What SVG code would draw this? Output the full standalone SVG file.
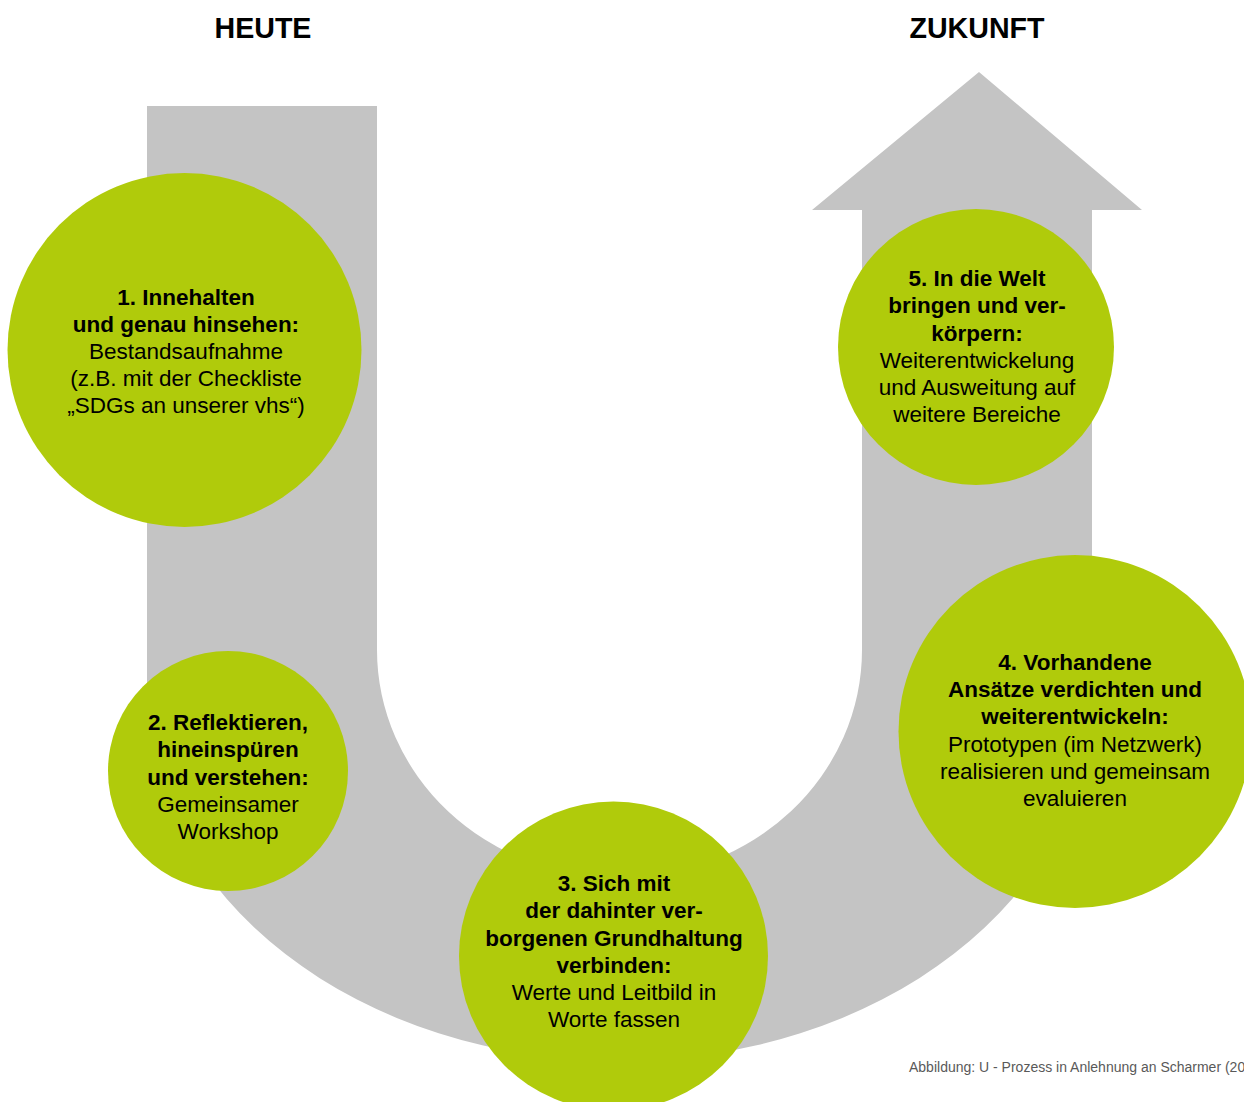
<svg xmlns="http://www.w3.org/2000/svg" width="1244" height="1102" viewBox="0 0 1244 1102">
  <style>
    .bg { fill: #ffffff; }
    .band { fill: #c4c4c4; }
    .node { fill: #b0cb0b; }
    .t { font-family: "Liberation Sans", Arial, sans-serif; font-size: 22.5px; fill: #000000; text-anchor: middle; }
    .b { font-weight: bold; }
    .head { font-family: "Liberation Sans", Arial, sans-serif; font-size: 28.6px; font-weight: bold; fill: #000000; text-anchor: middle; }
    .cap { font-family: "Liberation Sans", Arial, sans-serif; font-size: 14px; fill: #595959; }
  </style>
  <rect class="bg" x="0" y="0" width="1244" height="1102"/>

  <g id="headings">
    <text class="head" x="263" y="38">HEUTE</text>
    <text class="head" x="977" y="38">ZUKUNFT</text>
  </g>

  <g id="connectors">
    <path id="u-arrow" class="band" d="M147,106 H377 V650 A242.5,228 0 0 0 862,650 V210 H812 L979,72 L1142,210 H1092 V696 A472.5,365 0 0 1 147,696 Z"/>
  </g>

  <g id="node1">
    <circle class="node" cx="184.5" cy="350" r="177"/>
    <text class="t b" x="186" y="305">1. Innehalten</text>
    <text class="t b" x="186" y="332">und genau hinsehen:</text>
    <text class="t" x="186" y="359">Bestandsaufnahme</text>
    <text class="t" x="186" y="386">(z.B. mit der Checkliste</text>
    <text class="t" x="186" y="413">„SDGs an unserer vhs“)</text>
  </g>

  <g id="node2">
    <circle class="node" cx="228" cy="771" r="120"/>
    <text class="t b" x="228" y="730">2. Reflektieren,</text>
    <text class="t b" x="228" y="757">hineinspüren</text>
    <text class="t b" x="228" y="785">und verstehen:</text>
    <text class="t" x="228" y="812">Gemeinsamer</text>
    <text class="t" x="228" y="839">Workshop</text>
  </g>

  <g id="node3">
    <circle class="node" cx="613.5" cy="956" r="154.5"/>
    <text class="t b" x="614" y="891">3. Sich mit</text>
    <text class="t b" x="614" y="918">der dahinter ver-</text>
    <text class="t b" x="614" y="946">borgenen Grundhaltung</text>
    <text class="t b" x="614" y="973">verbinden:</text>
    <text class="t" x="614" y="1000">Werte und Leitbild in</text>
    <text class="t" x="614" y="1027">Worte fassen</text>
  </g>

  <g id="node4">
    <circle class="node" cx="1075" cy="731.5" r="176.5"/>
    <text class="t b" x="1075" y="670">4. Vorhandene</text>
    <text class="t b" x="1075" y="697">Ansätze verdichten und</text>
    <text class="t b" x="1075" y="724">weiterentwickeln:</text>
    <text class="t" x="1075" y="752">Prototypen (im Netzwerk)</text>
    <text class="t" x="1075" y="779">realisieren und gemeinsam</text>
    <text class="t" x="1075" y="806">evaluieren</text>
  </g>

  <g id="node5">
    <circle class="node" cx="976" cy="347" r="138"/>
    <text class="t b" x="977" y="286">5. In die Welt</text>
    <text class="t b" x="977" y="313">bringen und ver-</text>
    <text class="t b" x="977" y="341">körpern:</text>
    <text class="t" x="977" y="368">Weiterentwickelung</text>
    <text class="t" x="977" y="395">und Ausweitung auf</text>
    <text class="t" x="977" y="422">weitere Bereiche</text>
  </g>

  <g id="caption">
    <text class="cap" x="909" y="1072">Abbildung: U - Prozess in Anlehnung an Scharmer (20</text>
  </g>
</svg>
